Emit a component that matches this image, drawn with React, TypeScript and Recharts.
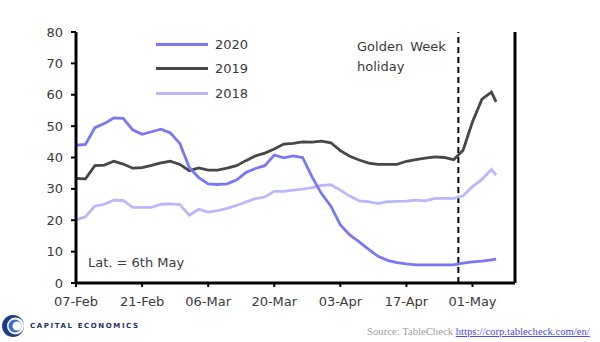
import React from 'react';
import { LineChart, XAxis, YAxis, Line, ReferenceLine } from 'recharts';

// days since 07-Feb
const days = [0, 2, 4, 6, 8, 10, 12, 14, 16, 18, 20, 22, 24, 26, 28, 30, 32, 34, 36, 38, 40, 42, 44, 46, 48, 50, 52, 54, 56, 58, 60, 62, 64, 66, 68, 70, 72, 74, 76, 78, 80, 82, 84, 86, 88, 89];

const y2020 = [43.9, 44.2, 49.5, 50.8, 52.6, 52.5, 48.8, 47.4, 48.2, 49.0, 47.8, 44.5, 36.8, 33.6, 31.6, 31.4, 31.6, 32.8, 35.2, 36.5, 37.4, 40.8, 39.9, 40.5, 40.0, 33.8, 28.5, 24.5, 18.5, 15.3, 13.1, 10.7, 8.5, 7.2, 6.5, 6.1, 5.8, 5.8, 5.8, 5.8, 5.8, 6.3, 6.7, 7.0, 7.4, 7.6];
const y2019 = [33.3, 33.2, 37.4, 37.6, 38.8, 37.9, 36.6, 36.8, 37.5, 38.3, 38.8, 37.8, 35.8, 36.7, 36.0, 36.0, 36.6, 37.4, 39.0, 40.5, 41.4, 42.7, 44.3, 44.5, 45.0, 44.9, 45.2, 44.7, 42.2, 40.4, 39.2, 38.2, 37.8, 37.8, 37.8, 38.8, 39.3, 39.8, 40.2, 40.0, 39.3, 42.3, 51.4, 58.6, 60.8, 57.7];
const y2018 = [20.1, 21.1, 24.5, 25.1, 26.4, 26.3, 24.1, 24.1, 24.1, 25.1, 25.2, 25.0, 21.6, 23.5, 22.6, 23.1, 23.8, 24.7, 25.8, 26.9, 27.4, 29.2, 29.2, 29.6, 29.9, 30.4, 31.1, 31.3, 29.6, 27.7, 26.2, 25.9, 25.3, 25.9, 26.0, 26.1, 26.4, 26.2, 27.0, 27.0, 27.0, 27.8, 30.7, 33.0, 36.2, 34.4];

const xTicks = [0, 14, 28, 42, 56, 70, 84];
const xLabels = ['07-Feb', '21-Feb', '06-Mar', '20-Mar', '03-Apr', '17-Apr', '01-May'];
const yTicks = [0, 10, 20, 30, 40, 50, 60, 70, 80];
const goldenWeekDay = 81;

const c2020 = '#7878f6';
const c2019 = '#474747';
const c2018 = '#b8b8fb';

const legendItems = [
  { name: '2020', color: c2020 },
  { name: '2019', color: c2019 },
  { name: '2018', color: c2018 },
];

const font = '"DejaVu Sans", sans-serif';
const tickStyle = { fontSize: 13, fill: '#3a3a3a', fontFamily: font };
const axisLine = { stroke: '#000', strokeWidth: 3 };
const tickLine = { stroke: '#000', strokeWidth: 2 };

const Logo = () => (
  <svg width={26} height={26} viewBox="0 0 26 26">
    <circle cx={12} cy={13} r={11} fill="#1d3c8c" />
    <circle cx={14.5} cy={13} r={8.5} fill="#fff" />
    <circle cx={14} cy={13} r={6.5} fill="#3a6fd0" />
    <circle cx={16} cy={13} r={4.5} fill="#fff" />
  </svg>
);

const App = () => {
  const data = React.useMemo(
    () => days.map((d, i) => ({ day: d, y2020: y2020[i], y2019: y2019[i], y2018: y2018[i] })),
    []
  );

  return (
    <div style={{ position: 'absolute', left: 0, top: 0, width: 600, height: 342, background: '#fff', fontFamily: font }}>
      <LineChart width={600} height={342} data={data} margin={{ top: 32, right: 25, left: 16, bottom: 29 }}>
        <XAxis
          dataKey="day"
          type="number"
          domain={[0, 93]}
          ticks={xTicks}
          tickFormatter={(v: number) => xLabels[xTicks.indexOf(v)] ?? ''}
          tick={tickStyle}
          tickSize={4}
          tickMargin={10}
          height={30}
          axisLine={axisLine}
          tickLine={tickLine}
        />
        <YAxis
          yAxisId="left"
          domain={[0, 80]}
          ticks={yTicks}
          width={60}
          tick={tickStyle}
          tickSize={5}
          tickMargin={8}
          axisLine={axisLine}
          tickLine={tickLine}
        />
        <YAxis
          yAxisId="right"
          orientation="right"
          domain={[0, 80]}
          ticks={yTicks}
          width={60}
          tick={{ ...tickStyle, textAnchor: 'start' }}
          tickSize={6}
          tickMargin={10}
          axisLine={axisLine}
          tickLine={tickLine}
        />
        <ReferenceLine yAxisId="left" x={goldenWeekDay} stroke="#000" strokeWidth={2} strokeDasharray="6 4" />
        <Line yAxisId="left" type="linear" dataKey="y2018" stroke={c2018} strokeWidth={2.8} dot={false} isAnimationActive={false} />
        <Line yAxisId="left" type="linear" dataKey="y2019" stroke={c2019} strokeWidth={2.8} dot={false} isAnimationActive={false} />
        <Line yAxisId="left" type="linear" dataKey="y2020" stroke={c2020} strokeWidth={2.8} dot={false} isAnimationActive={false} />
      </LineChart>

      {/* legend */}
      <div style={{ position: 'absolute', left: 156, top: 32, fontSize: 13, color: '#3a3a3a' }}>
        {legendItems.map((it) => (
          <div key={it.name} style={{ display: 'flex', alignItems: 'center', height: 24.5 }}>
            <div style={{ width: 52, height: 3, background: it.color, marginRight: 7 }} />
            <span>{it.name}</span>
          </div>
        ))}
      </div>

      <div style={{ position: 'absolute', left: 357, top: 37, fontSize: 13, color: '#3a3a3a', lineHeight: '20px', wordSpacing: 3 }}>
        Golden Week
        <br />
        holiday
      </div>

      <div style={{ position: 'absolute', left: 88, top: 255, fontSize: 13, color: '#3a3a3a' }}>Lat. = 6th May</div>

      <div style={{ position: 'absolute', left: 1, top: 313, display: 'flex', alignItems: 'center' }}>
        <Logo />
        <span style={{ fontSize: 7, fontWeight: 'bold', letterSpacing: 1.6, color: '#1d2f66', marginLeft: 3 }}>
          CAPITAL ECONOMICS
        </span>
      </div>

      <div style={{ position: 'absolute', left: 367, top: 325, fontSize: 10.7, fontFamily: '"Liberation Serif", serif', color: '#a0a0a0', whiteSpace: 'nowrap' }}>
        Source: TableCheck{' '}
        <span style={{ color: '#4a4af0', textDecoration: 'underline' }}>https://corp.tablecheck.com/en/</span>
      </div>
    </div>
  );
};

export default App;
